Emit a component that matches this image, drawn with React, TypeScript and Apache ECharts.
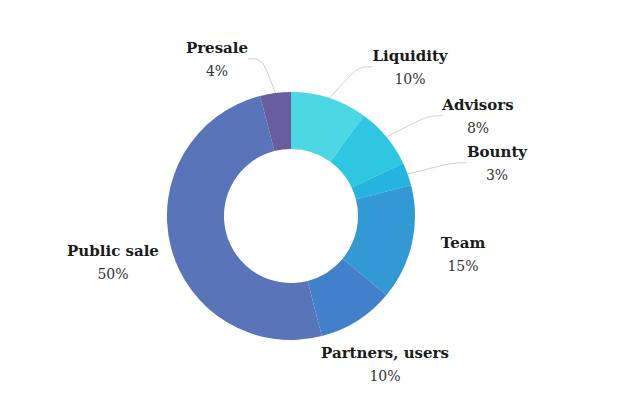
import React, { useEffect, useRef } from "react";
import * as echarts from "echarts";

const categories = ["Liquidity", "Advisors", "Bounty", "Team", "Partners, users", "Public sale", "Presale"];
const values = [10, 8, 3, 15, 10, 50, 4];
const colors = ["#4BD8E4", "#2EC6E0", "#24B4DF", "#3399D5", "#4281C9", "#5A74BA", "#675D9F"];
const showLine = [true, true, true, false, false, false, true];
const labelPos: [number, number][] = [
  [410, 67],
  [478, 116],
  [497, 163],
  [463, 254],
  [385, 364],
  [113, 262],
  [217, 59],
];

export default function App() {
  const ref = useRef<HTMLDivElement>(null);
  useEffect(() => {
    if (!ref.current) return;
    const chart = echarts.init(ref.current, undefined, { renderer: "svg" });
    chart.setOption({
      animation: false,
      backgroundColor: "#ffffff",
      series: [
        {
          type: "pie",
          center: [291, 216],
          radius: [67, 124],
          startAngle: 90,
          clockwise: true,
          avoidLabelOverlap: false,
          data: categories.map((name, i) => ({
            name,
            value: values[i],
            itemStyle: { color: colors[i] },
            labelLine: { show: showLine[i] },
          })),
          label: {
            show: true,
            position: "outside",
            formatter: (p: any) => `{n|${p.name}}\n{p|${p.value}%}`,
            rich: {
              n: { fontFamily: "DejaVu Serif", fontSize: 15, fontWeight: "bold", color: "#1a1a1a", lineHeight: 23, align: "center" },
              p: { fontFamily: "DejaVu Serif", fontSize: 14, color: "#333333", lineHeight: 23, align: "center" },
            },
          },
          labelLine: {
            show: true,
            smooth: 0.4,
            length: 12,
            length2: 14,
            lineStyle: { color: "#cfcfcf", width: 1 },
          },
          labelLayout: (params: any) => {
            const pos = labelPos[params.dataIndex];
            return { x: pos[0], y: pos[1], align: "center", verticalAlign: "middle" };
          },
        },
      ],
    });
    return () => chart.dispose();
  }, []);
  return <div ref={ref} style={{ position: "fixed", left: 0, top: 0, width: 640, height: 398 }} />;
}
